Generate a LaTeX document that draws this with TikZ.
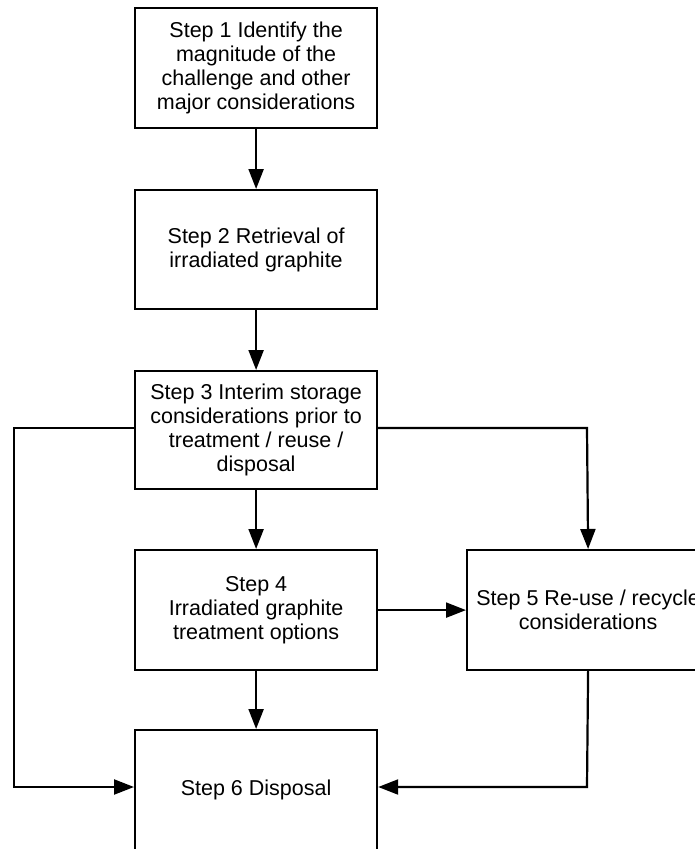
\documentclass[tikz,border=0pt]{standalone}
\usepackage{fontspec}
\setmainfont{Liberation Sans}
\usetikzlibrary{arrows.meta}
\begin{document}
\begin{tikzpicture}[x=1pt,y=-1pt,
  stepbox/.style={draw,line width=2.2pt,minimum width=242pt,minimum height=120pt,inner sep=0pt,align=center,font=\fontsize{21.5}{24}\selectfont,anchor=north west},
  conn/.style={line width=2.2pt,-{Triangle[length=20pt,width=15pt]}}]
\useasboundingbox (0,0) rectangle (695,849);
\begin{scope}
\clip (0,0) rectangle (695,849);
\node[stepbox] (s1) at (134,7) {Step 1 Identify the\\magnitude of the\\challenge and other\\major considerations};
\node[stepbox,minimum height=119pt] (s2) at (134,189) {Step 2 Retrieval of\\irradiated graphite};
\node[stepbox,minimum height=118pt] (s3) at (134,370) {Step 3 Interim storage\\considerations prior to\\treatment / reuse /\\disposal};
\node[stepbox] (s4) at (134,549) {Step 4\\Irradiated graphite\\treatment options};
\node[stepbox] (s5) at (466,549) {Step 5 Re-use / recycle\\considerations};
\node[stepbox] (s6) at (134,729) {Step 6 Disposal};
\coordinate (l1) at (14,428);
\coordinate (l2) at (14,787);
\coordinate (r1) at (587,428);
\coordinate (b1) at (587,787);
\draw[conn] (s1.south) -- (s2.north);
\draw[conn] (s2.south) -- (s3.north);
\draw[conn] (s3.south) -- (s4.north);
\draw[conn] (s4.south) -- (s6.north);
\draw[conn] (s4.east) -- (s5.west);
\draw[conn] (s3.west |- l1) -- (l1) -- (l2) -- (s6.west |- l2);
\draw[conn] (s3.east |- r1) -- (r1) -- (s5.north);
\draw[conn] (s5.south) -- (b1) -- (s6.east |- b1);
\end{scope}
\end{tikzpicture}
\end{document}
